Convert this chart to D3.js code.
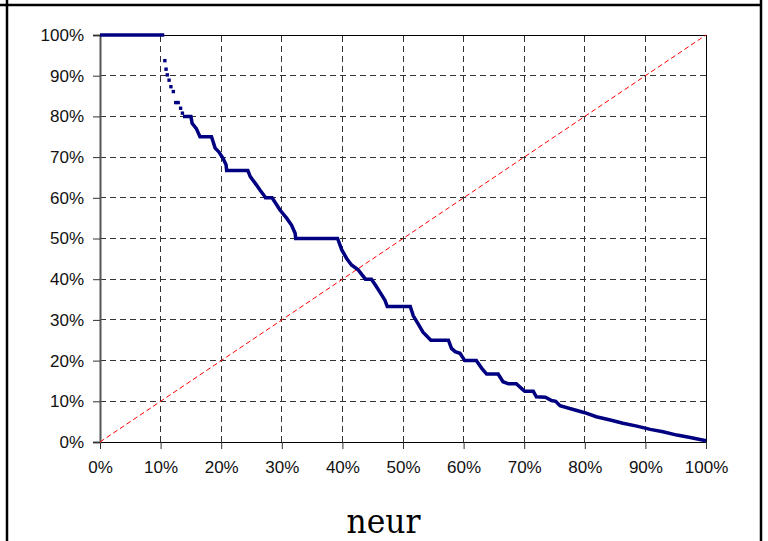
<!DOCTYPE html>
<html>
<head>
<meta charset="utf-8">
<script src="https://cdn.jsdelivr.net/npm/d3@7"></script>
<style>
  body { margin: 0; background: #fff; }
  svg { display: block; }
</style>
</head>
<body>
<svg class="chart"></svg>
<script>
// tick values (fractions) for both axes
const ticks = [0, 0.1, 0.2, 0.3, 0.4, 0.5, 0.6, 0.7, 0.8, 0.9, 1];
const title = 'neur';

// flat start at 100%
const topRun = [[0, 1.0], [0.106, 1.0]];

// sparse markers just after the drop
const sparseDots = [
  [0.107, 0.937], [0.109, 0.916], [0.111, 0.902], [0.114, 0.889], [0.117, 0.873],
  [0.121, 0.861], [0.125, 0.834], [0.129, 0.834], [0.133, 0.820], [0.136, 0.808]
];

// the dense part of the curve (x, y)
const curve = [
  [0.137, 0.80], [0.150, 0.80], [0.152, 0.783], [0.159, 0.77], [0.165, 0.75], [0.184, 0.75],
  [0.190, 0.722], [0.196, 0.713], [0.203, 0.697], [0.208, 0.681], [0.209, 0.667], [0.244, 0.667],
  [0.248, 0.652], [0.256, 0.636], [0.264, 0.619], [0.272, 0.603], [0.273, 0.60], [0.284, 0.60],
  [0.297, 0.570], [0.308, 0.550], [0.316, 0.533], [0.322, 0.513], [0.323, 0.50], [0.392, 0.50],
  [0.399, 0.472], [0.407, 0.451], [0.415, 0.435], [0.426, 0.423], [0.437, 0.402], [0.438, 0.40],
  [0.448, 0.40], [0.456, 0.382], [0.465, 0.361], [0.470, 0.349], [0.474, 0.333], [0.512, 0.333],
  [0.517, 0.310], [0.525, 0.290], [0.533, 0.270], [0.546, 0.25], [0.575, 0.25], [0.580, 0.230],
  [0.586, 0.222], [0.594, 0.218], [0.602, 0.20], [0.621, 0.20], [0.630, 0.181], [0.638, 0.167],
  [0.657, 0.167], [0.665, 0.148], [0.674, 0.143], [0.687, 0.143], [0.698, 0.128], [0.701, 0.125],
  [0.715, 0.125], [0.720, 0.111], [0.735, 0.110], [0.745, 0.102], [0.752, 0.10], [0.759, 0.089],
  [0.781, 0.080], [0.800, 0.072], [0.819, 0.062], [0.842, 0.054], [0.863, 0.046], [0.886, 0.039],
  [0.908, 0.031], [0.929, 0.025], [0.952, 0.017], [0.974, 0.011], [1.0, 0.003]
];

const width = 768, height = 541;
const margin = { top: 35, right: 62, bottom: 99, left: 100 };

const svg = d3.select('.chart')
  .attr('width', width)
  .attr('height', height);

const x = d3.scaleLinear().domain([0, 1]).range([margin.left, width - margin.right]);
const y = d3.scaleLinear().domain([0, 1]).range([height - margin.bottom, margin.top]);
const pct = d3.format('.0%');

// outer frame
svg.append('line').attr('x1', 0).attr('x2', 762).attr('y1', 5).attr('y2', 5)
  .attr('stroke', '#000').attr('stroke-width', 2.5);
svg.append('line').attr('x1', 7).attr('x2', 7).attr('y1', 0).attr('y2', height)
  .attr('stroke', '#000').attr('stroke-width', 2.5);
svg.append('line').attr('x1', 761).attr('x2', 761).attr('y1', 0).attr('y2', height)
  .attr('stroke', '#000').attr('stroke-width', 2.5);

// grid
const inner = ticks.slice(1, -1);
svg.append('g')
  .selectAll('line')
  .data(inner)
  .join('line')
  .attr('x1', (d) => x(d)).attr('x2', (d) => x(d))
  .attr('y1', y(0)).attr('y2', y(1))
  .attr('stroke', '#333').attr('stroke-dasharray', '6,4').attr('shape-rendering', 'crispEdges');
svg.append('g')
  .selectAll('line')
  .data(inner)
  .join('line')
  .attr('y1', (d) => y(d)).attr('y2', (d) => y(d))
  .attr('x1', x(0)).attr('x2', x(1))
  .attr('stroke', '#333').attr('stroke-dasharray', '6,4').attr('shape-rendering', 'crispEdges');

// plot border top/right
svg.append('path')
  .attr('d', `M${x(0)},${y(1)}H${x(1)}V${y(0)}`)
  .attr('fill', 'none').attr('stroke', '#000').attr('shape-rendering', 'crispEdges');

// axes
const xAxis = (g) => g
  .attr('transform', `translate(0,${y(0)})`)
  .call(d3.axisBottom(x).tickValues(ticks).tickFormat(pct).tickSize(7).tickPadding(12))
  .call((g) => g.select('.domain').attr('stroke', '#000'))
  .call((g) => g.selectAll('.tick line').attr('stroke', '#333'));

const yAxis = (g) => g
  .attr('transform', `translate(${x(0)},0)`)
  .call(d3.axisLeft(y).tickValues(ticks).tickFormat(pct).tickSize(7).tickPadding(9))
  .call((g) => g.select('.domain').attr('stroke', '#555').attr('stroke-width', 2))
  .call((g) => g.selectAll('.tick line').attr('stroke', '#333'));

svg.append('g').call(xAxis);
svg.append('g').call(yAxis);

svg.selectAll('.tick text')
  .attr('font-family', 'Liberation Sans, Arial, sans-serif')
  .attr('font-size', 17)
  .attr('fill', '#111');

// diagonal reference
svg.append('line')
  .attr('x1', x(0)).attr('y1', y(0))
  .attr('x2', x(1)).attr('y2', y(1))
  .attr('stroke', '#ff0000').attr('stroke-dasharray', '5,3');

// curve
const line = d3.line().x((d) => x(d[0])).y((d) => y(d[1]));
const blue = '#000080';

svg.append('path')
  .datum(topRun)
  .attr('d', line)
  .attr('fill', 'none').attr('stroke', blue).attr('stroke-width', 3.5);

svg.append('g')
  .selectAll('rect')
  .data(sparseDots)
  .join('rect')
  .attr('x', (d) => x(d[0]) - 1.7)
  .attr('y', (d) => y(d[1]) - 1.7)
  .attr('width', 3.4).attr('height', 3.4)
  .attr('fill', blue);

svg.append('path')
  .datum(curve)
  .attr('d', line)
  .attr('fill', 'none').attr('stroke', blue).attr('stroke-width', 3.5);

// title
svg.append('text')
  .attr('x', 383.5)
  .attr('y', 533)
  .attr('text-anchor', 'middle')
  .attr('font-family', 'DejaVu Serif, serif')
  .attr('font-size', 33)
  .attr('textLength', 74)
  .attr('lengthAdjust', 'spacingAndGlyphs')
  .attr('fill', '#000')
  .text(title);
</script>
</body>
</html>
